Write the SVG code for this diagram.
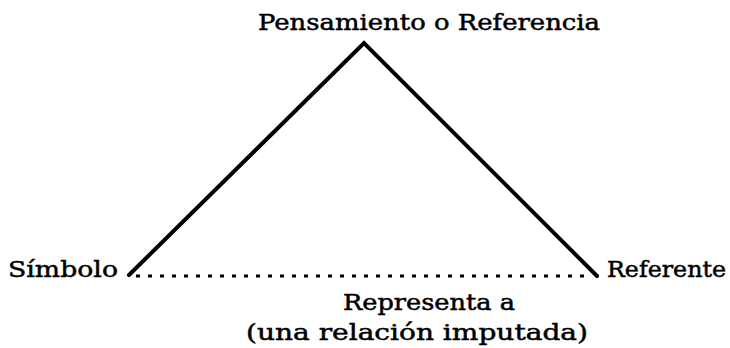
<svg xmlns="http://www.w3.org/2000/svg" width="730" height="348" viewBox="0 0 730 348">
<style>
text{font-family:"DejaVu Serif","Liberation Serif",serif;font-size:23px;fill:#000;stroke:#000;stroke-width:0.5}
.edge{stroke:#000;stroke-width:4;fill:none;stroke-linecap:round;stroke-linejoin:miter}
.dot{stroke:#000;stroke-width:3;fill:none;stroke-dasharray:4 8}
</style>
<rect width="730" height="348" fill="#fff"/>
<g id="connectors">
<path class="edge" d="M129,275 L364,43 L597,276"/>
<line class="dot" x1="136" y1="276" x2="592" y2="276"/>
</g>
<g id="node-pensamiento"><text x="258" y="30" textLength="342" lengthAdjust="spacingAndGlyphs">Pensamiento o Referencia</text></g>
<g id="node-simbolo"><text x="8" y="277" textLength="110" lengthAdjust="spacingAndGlyphs">Símbolo</text></g>
<g id="node-referente"><text x="607" y="277" textLength="119" lengthAdjust="spacingAndGlyphs">Referente</text></g>
<g id="label-representa">
<text x="343" y="310" textLength="172" lengthAdjust="spacingAndGlyphs">Representa a</text>
<text x="246" y="340" textLength="342" lengthAdjust="spacingAndGlyphs">(una relación imputada)</text>
</g>
</svg>
